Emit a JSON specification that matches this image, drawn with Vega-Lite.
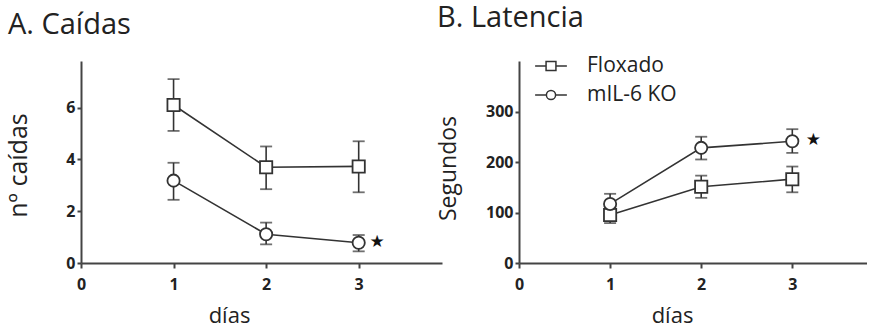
{
  "$schema": "https://vega.github.io/schema/vega-lite/v6.json",
  "background": "white",
  "padding": {"left": 6, "top": 4, "right": 0, "bottom": 0},
  "bounds": "flush",
  "spacing": 77,
  "datasets": {
    "caidas": [
      {"dia": 1, "grupo": "Floxado", "media": 6.1, "lo": 5.1, "hi": 7.1},
      {"dia": 2, "grupo": "Floxado", "media": 3.7, "lo": 2.85, "hi": 4.5},
      {"dia": 3, "grupo": "Floxado", "media": 3.73, "lo": 2.73, "hi": 4.7},
      {"dia": 1, "grupo": "mIL-6 KO", "media": 3.18, "lo": 2.44, "hi": 3.87},
      {"dia": 2, "grupo": "mIL-6 KO", "media": 1.11, "lo": 0.72, "hi": 1.56},
      {"dia": 3, "grupo": "mIL-6 KO", "media": 0.78, "lo": 0.45, "hi": 1.08}
    ],
    "latencia": [
      {"dia": 1, "grupo": "Floxado", "media": 95, "lo": 79, "hi": 112},
      {"dia": 2, "grupo": "Floxado", "media": 151, "lo": 129, "hi": 173},
      {"dia": 3, "grupo": "Floxado", "media": 166, "lo": 140, "hi": 191},
      {"dia": 1, "grupo": "mIL-6 KO", "media": 117, "lo": 100, "hi": 137},
      {"dia": 2, "grupo": "mIL-6 KO", "media": 228, "lo": 205, "hi": 250},
      {"dia": 3, "grupo": "mIL-6 KO", "media": 241, "lo": 218, "hi": 265}
    ],
    "sig_caidas": [{"dia": 3.2, "media": 0.8, "marca": "★"}],
    "sig_latencia": [{"dia": 3.23, "media": 243, "marca": "★"}]
  },
  "resolve": {"scale": {"shape": "independent", "x": "independent", "y": "independent"}, "legend": {"shape": "independent"}},
  "hconcat": [
    {
      "width": 361,
      "height": 202,
      "title": {"text": "A. Caídas", "anchor": "start", "frame": "bounds", "offset": 21, "dx": 2},
      "layer": [
        {
          "data": {"name": "caidas"},
          "mark": {"type": "rule", "color": "#333", "strokeWidth": 1.6},
          "encoding": {
            "x": {"field": "dia", "type": "quantitative", "scale": {"domain": [0, 3.9], "nice": false, "zero": false},
              "axis": {"title": "días", "values": [0, 1, 2, 3], "format": "d", "titleX": 148, "titleY": 59}},
            "y": {"field": "lo", "type": "quantitative", "scale": {"domain": [0, 7.8], "nice": false},
              "axis": {"title": "nº caídas", "values": [0, 2, 4, 6], "titleX": -55, "titleY": 104, "titleFontSize": 25}},
            "y2": {"field": "hi"}
          }
        },
        {
          "data": {"name": "caidas"},
          "mark": {"type": "tick", "orient": "horizontal", "color": "#333", "size": 12, "thickness": 1.8},
          "encoding": {"x": {"field": "dia", "type": "quantitative"}, "y": {"field": "lo", "type": "quantitative"}}
        },
        {
          "data": {"name": "caidas"},
          "mark": {"type": "tick", "orient": "horizontal", "color": "#333", "size": 12, "thickness": 1.8},
          "encoding": {"x": {"field": "dia", "type": "quantitative"}, "y": {"field": "hi", "type": "quantitative"}}
        },
        {
          "data": {"name": "caidas"},
          "mark": {"type": "line", "color": "#333", "strokeWidth": 1.6},
          "encoding": {"x": {"field": "dia", "type": "quantitative"}, "y": {"field": "media", "type": "quantitative"}, "detail": {"field": "grupo"}}
        },
        {
          "data": {"name": "caidas"},
          "mark": {"type": "point", "filled": true, "fill": "white", "stroke": "#333", "strokeWidth": 1.8, "opacity": 1, "size": 150},
          "encoding": {
            "x": {"field": "dia", "type": "quantitative"},
            "y": {"field": "media", "type": "quantitative"},
            "shape": {"field": "grupo", "type": "nominal", "scale": {"domain": ["Floxado", "mIL-6 KO"], "range": ["square", "circle"]}, "legend": null}
          }
        },
        {
          "data": {"name": "sig_caidas"},
          "mark": {"type": "text", "font": "DejaVu Sans", "fontSize": 17, "color": "#111", "align": "center", "baseline": "middle"},
          "encoding": {"x": {"field": "dia", "type": "quantitative"}, "y": {"field": "media", "type": "quantitative"}, "text": {"field": "marca"}}
        }
      ]
    },
    {
      "width": 348,
      "height": 202,
      "title": {"text": "B. Latencia", "anchor": "start", "frame": "bounds", "offset": 21, "dx": 0},
      "resolve": {"scale": {"shape": "independent"}, "legend": {"shape": "independent"}},
      "layer": [
        {
          "data": {"name": "latencia"},
          "mark": {"type": "rule", "color": "#333", "strokeWidth": 1.6},
          "encoding": {
            "x": {"field": "dia", "type": "quantitative", "scale": {"domain": [0, 3.82], "nice": false, "zero": false},
              "axis": {"title": "días", "values": [0, 1, 2, 3], "format": "d", "titleX": 153, "titleY": 59}},
            "y": {"field": "lo", "type": "quantitative", "scale": {"domain": [0, 400], "nice": false},
              "axis": {"title": "Segundos", "values": [0, 100, 200, 300], "titleX": -64, "titleY": 107, "titleFontSize": 23}},
            "y2": {"field": "hi"}
          }
        },
        {
          "data": {"name": "latencia"},
          "mark": {"type": "tick", "orient": "horizontal", "color": "#333", "size": 12, "thickness": 1.8},
          "encoding": {"x": {"field": "dia", "type": "quantitative"}, "y": {"field": "lo", "type": "quantitative"}}
        },
        {
          "data": {"name": "latencia"},
          "mark": {"type": "tick", "orient": "horizontal", "color": "#333", "size": 12, "thickness": 1.8},
          "encoding": {"x": {"field": "dia", "type": "quantitative"}, "y": {"field": "hi", "type": "quantitative"}}
        },
        {
          "data": {"name": "latencia"},
          "mark": {"type": "line", "color": "#333", "strokeWidth": 1.6},
          "encoding": {"x": {"field": "dia", "type": "quantitative"}, "y": {"field": "media", "type": "quantitative"}, "detail": {"field": "grupo"}}
        },
        {
          "data": {"name": "latencia"},
          "mark": {"type": "point", "filled": true, "fill": "white", "stroke": "#333", "strokeWidth": 1.8, "opacity": 1, "size": 150},
          "encoding": {
            "x": {"field": "dia", "type": "quantitative"},
            "y": {"field": "media", "type": "quantitative"},
            "shape": {"field": "grupo", "type": "nominal", "scale": {"domain": ["Floxado", "mIL-6 KO"], "range": ["square", "circle"]}, "legend": null}
          }
        },
        {
          "data": {"name": "latencia"},
          "mark": {"type": "point", "filled": true, "fill": "white", "stroke": "#333", "strokeWidth": 1.8, "opacity": 0, "size": 480},
          "encoding": {
            "x": {"field": "dia", "type": "quantitative"},
            "y": {"field": "media", "type": "quantitative"},
            "shape": {
              "field": "grupo", "type": "nominal",
              "scale": {"domain": ["Floxado", "mIL-6 KO"], "range": [
                "M-1.45,0H-0.45M0.45,0H1.45M-0.45,-0.4H0.45V0.4H-0.45Z",
                "M-1.45,0H-0.42M0.42,0H1.45M0.42,0A0.42,0.42 0 1,1 -0.42,0A0.42,0.42 0 1,1 0.42,0Z"
              ]},
              "legend": {
                "title": null, "orient": "none", "legendX": 20, "legendY": -7, "padding": 0,
                "symbolSize": 480, "labelFont": "Open Sans", "labelFontSize": 21, "labelColor": "#222", "labelOffset": 24, "rowPadding": 7,
                "encode": {"symbols": {
                  "fill": {"value": "white"},
                  "stroke": {"value": "#333"},
                  "strokeWidth": {"value": 1.8},
                  "opacity": {"value": 1}
                }}
              }
            }
          }
        },
        {
          "data": {"name": "sig_latencia"},
          "mark": {"type": "text", "font": "DejaVu Sans", "fontSize": 17, "color": "#111", "align": "center", "baseline": "middle"},
          "encoding": {"x": {"field": "dia", "type": "quantitative"}, "y": {"field": "media", "type": "quantitative"}, "text": {"field": "marca"}}
        }
      ]
    }
  ],
  "config": {
    "view": {"stroke": null},
    "font": "Open Sans",
    "title": {"font": "Open Sans", "fontSize": 29, "fontWeight": "normal", "color": "#222"},
    "axis": {
      "grid": false,
      "domainColor": "#444", "domainWidth": 2,
      "tickColor": "#444", "tickWidth": 2, "tickSize": 5,
      "labelFont": "Open Sans", "labelFontWeight": "bold", "labelFontSize": 16, "labelColor": "#222",
      "labelFlush": false, "labelOverlap": false,
      "titleFont": "Open Sans", "titleFontWeight": "normal", "titleFontSize": 22, "titleColor": "#222",
      "titleAlign": "center", "titleBaseline": "alphabetic"
    },
    "axisX": {"labelPadding": 8},
    "axisY": {"labelPadding": 2, "tickSize": 4}
  }
}
